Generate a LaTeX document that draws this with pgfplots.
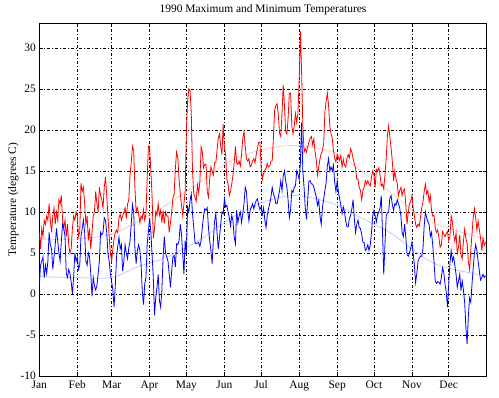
\documentclass[border=0pt]{standalone}
\usepackage{pgfplots}
\pgfplotsset{compat=1.18}
\usepackage{fontspec}
\setmainfont{Liberation Serif}
\definecolor{climred}{RGB}{255,200,200}
\definecolor{climblue}{RGB}{200,200,255}
\begin{document}
\begin{tikzpicture}
\path[use as bounding box] (-39.3bp,-22bp) rectangle (459.7bp,376bp);
\begin{axis}[
  scale only axis, width=447.4bp, height=352.7bp,
  at={(0,0)}, anchor=south west,
  xmin=0, xmax=365, ymin=-10, ymax=33,
  xtick={0,31,59,90,120,151,181,212,243,273,304,334},
  xticklabels={Jan,Feb,Mar,Apr,May,Jun,Jul,Aug,Sep,Oct,Nov,Dec},
  ytick={-10,-5,0,5,10,15,20,25,30},
  grid=major,
  major grid style={black, line width=0.6bp, dash pattern=on 3bp off 2bp on 1bp off 2bp},
  tick align=inside, xtick pos=both, ytick pos=both,
  major tick length=4bp,
  axis line style={black, line width=0.8bp},
  tick style={black, line width=0.8bp},
  title={1990 Maximum and Minimum Temperatures},
  ylabel={Temperature (degrees C)},
  font=\fontsize{11.5}{13}\selectfont,
  ticklabel style={font=\fontsize{11.5}{13}\selectfont},
  /pgf/number format/assume math mode=true,
  title style={at={(axis description cs:0.5,1)}, anchor=base, yshift=4.5bp},
  ylabel style={at={(axis description cs:-0.058,0.5)}, anchor=center},
  xticklabel style={yshift=-1bp},
  clip=true,
]
\addplot[climred, line width=0.8bp, smooth] coordinates {(0,6.7) (30,6.7) (59,7.3) (80,8.8) (104,10.9) (130,13.5) (157,16.3) (185,17.7) (210,18.1) (240,17.3) (261,15.2) (288,12.2) (313,9.3) (330,8.2) (364,6.7)};
\addplot[climblue, line width=0.8bp, smooth] coordinates {(0,2.1) (30,2.0) (59,2.0) (80,3.3) (104,4.5) (130,6.5) (157,9.3) (185,11.3) (210,12) (240,11) (261,9.4) (288,7.3) (313,4.5) (330,3.3) (364,2.2)};
\addplot[red, line width=0.8bp] table[x expr=\coordindex, y index=0, header=false, row sep=\\] {
7.5\\ 5.5\\ 8\\ 7\\ 9\\ 8.5\\ 9.5\\ 9\\ 11\\ 9\\
7.5\\ 9.5\\ 10.5\\ 8.5\\ 10\\ 9\\ 11.5\\ 11\\ 12\\ 9\\
8\\ 9\\ 7\\ 8.5\\ 6\\ 5\\ 5.5\\ 8\\ 9.5\\ 9\\
10\\ 9.5\\ 7\\ 7.5\\ 13.5\\ 12.5\\ 13\\ 11\\ 8.5\\ 9.5\\
6.5\\ 8\\ 5.5\\ 7.5\\ 9.5\\ 10\\ 12.5\\ 11\\ 10\\ 13\\
12\\ 11.5\\ 10.5\\ 13\\ 14.3\\ 12\\ 9.5\\ 7\\ 5\\ 4\\
5.5\\ 6.8\\ 7.5\\ 7.8\\ 7.5\\ 9.3\\ 9.7\\ 9\\ 9.5\\ 10\\
10.5\\ 9.2\\ 11\\ 11.4\\ 14.5\\ 16\\ 18\\ 17.5\\ 13\\ 10\\
10.5\\ 9.8\\ 8.7\\ 9.5\\ 9.2\\ 10.3\\ 9\\ 9.7\\ 14\\ 18\\
17.8\\ 15\\ 12\\ 6.8\\ 8\\ 10\\ 9.6\\ 11\\ 9.6\\ 10.2\\
8.7\\ 10.2\\ 8.6\\ 10\\ 9.5\\ 9.5\\ 7.5\\ 8.7\\ 10\\ 11.7\\
12.2\\ 15.3\\ 17.3\\ 16.6\\ 14\\ 12.3\\ 10.8\\ 9.6\\ 11\\ 12.5\\
20\\ 23.5\\ 25\\ 24.8\\ 22\\ 15\\ 12.2\\ 11.8\\ 11.3\\ 13.3\\
12.3\\ 13.7\\ 17.9\\ 17.3\\ 15.4\\ 15.8\\ 15.8\\ 12.5\\ 11.8\\ 14\\
15.5\\ 15\\ 14.5\\ 16\\ 16\\ 17.5\\ 19\\ 19.5\\ 18\\ 17\\
20.7\\ 18\\ 17\\ 14\\ 13.4\\ 12\\ 12.5\\ 13.4\\ 14.5\\ 16\\
18\\ 16\\ 15.8\\ 16.2\\ 15.6\\ 17\\ 19\\ 19.8\\ 18\\ 16.5\\
16.2\\ 16.5\\ 15.5\\ 15.7\\ 16.2\\ 16.5\\ 16\\ 17\\ 17.8\\ 18.5\\
18.5\\ 15.5\\ 14\\ 14.7\\ 15.1\\ 15.3\\ 15.9\\ 15.5\\ 15.6\\ 16.2\\
16.2\\ 19\\ 22.4\\ 23\\ 23.2\\ 21.8\\ 19.6\\ 19.2\\ 22\\ 25.5\\
23\\ 19.8\\ 19.5\\ 21.5\\ 24.5\\ 24.5\\ 20.5\\ 19.5\\ 20.5\\ 22\\
20.9\\ 22\\ 26\\ 32\\ 27\\ 20.5\\ 17.3\\ 17.7\\ 17.3\\ 18\\
18.5\\ 19\\ 19.2\\ 18.2\\ 18.9\\ 17.3\\ 16.3\\ 14.5\\ 15.5\\ 16.5\\
17.1\\ 17.5\\ 18.3\\ 22.2\\ 23.5\\ 24.5\\ 23\\ 20.5\\ 19.5\\ 19\\
17.5\\ 16.5\\ 16.1\\ 17\\ 16.7\\ 16.3\\ 16.9\\ 15.5\\ 16.4\\ 15.7\\
15.5\\ 16.5\\ 17\\ 16.6\\ 17.7\\ 17.3\\ 16.5\\ 15.9\\ 15.3\\ 14\\
14\\ 13\\ 12.6\\ 11.5\\ 12.6\\ 13\\ 13.8\\ 13.4\\ 13.8\\ 13.4\\
13.2\\ 14.2\\ 15\\ 14.5\\ 13\\ 15.2\\ 15\\ 15.4\\ 14.5\\ 13.2\\
13.4\\ 12.8\\ 14.5\\ 16.5\\ 19.3\\ 20.5\\ 19.2\\ 17.8\\ 16.2\\ 13.8\\
15\\ 14\\ 13.5\\ 12\\ 12.6\\ 13\\ 12\\ 12.6\\ 12.8\\ 10.9\\
8.5\\ 10\\ 11\\ 11.3\\ 12\\ 10.5\\ 9.5\\ 8.5\\ 8.1\\ 8.5\\
8.3\\ 9.3\\ 10.5\\ 11.2\\ 12.5\\ 13.4\\ 12.2\\ 12.6\\ 11.2\\ 12\\
10.2\\ 9.5\\ 9.6\\ 8.1\\ 7.5\\ 7.8\\ 6.9\\ 5.7\\ 6\\ 7.6\\
7.3\\ 7\\ 7.4\\ 7.6\\ 6.5\\ 7\\ 9.5\\ 8.8\\ 7.3\\ 6.4\\
7.4\\ 5\\ 5.7\\ 7.2\\ 4.8\\ 4.3\\ 6.4\\ 7.9\\ 6.8\\ 6.2\\
4\\ 3\\ 5.3\\ 7.3\\ 9.3\\ 10.4\\ 9.3\\ 7.8\\ 8.9\\ 7.8\\
6.8\\ 5.3\\ 6.8\\ 5.9\\ 6.3\\
};
\addplot[blue, line width=0.8bp] table[x expr=\coordindex, y index=0, header=false, row sep=\\] {
1\\ 3.5\\ 4\\ 4.5\\ 2\\ 3.5\\ 2.5\\ 4\\ 7.5\\ 6\\
5.5\\ 3\\ 4.5\\ 6\\ 8\\ 6.5\\ 5\\ 4\\ 6.5\\ 8.5\\
8\\ 7\\ 2.5\\ 2\\ 3\\ 2.5\\ 1.5\\ 0\\ 2\\ 5\\
4\\ 4.5\\ 3\\ 3.5\\ 7\\ 8\\ 9\\ 7.5\\ 4\\ 3.5\\
5\\ 4.5\\ 2.5\\ -0.3\\ 2\\ 1\\ 0.5\\ 1\\ 2.5\\ 4\\
7.5\\ 7.2\\ 7.5\\ 9.3\\ 9\\ 7.5\\ 5\\ 4\\ 2.5\\ 1.5\\
0.5\\ -1.6\\ 1\\ 4.5\\ 5.8\\ 6.9\\ 5.5\\ 6\\ 2.8\\ 4\\
6\\ 5\\ 4.3\\ 5.6\\ 6.4\\ 8.5\\ 10.9\\ 10\\ 5.6\\ 3.7\\
5.3\\ 6\\ 5.3\\ 3.7\\ 0.4\\ -1.3\\ 1.2\\ 2\\ 6\\ 7.6\\
9.2\\ 7.6\\ 4.8\\ 2\\ -2.6\\ -0.4\\ 0.8\\ 2.4\\ -0.8\\ -1.6\\
0.4\\ 4.5\\ 7\\ 5\\ 4.5\\ 4\\ 2.4\\ 0.8\\ 2.8\\ 4.5\\
4.7\\ 3.3\\ 6.1\\ 6\\ 6.5\\ 8.5\\ 7.3\\ 4.9\\ 2.4\\ 6.5\\
5\\ 10.6\\ 10\\ 11.4\\ 12.2\\ 9.8\\ 8.1\\ 6.3\\ 6.1\\ 6.2\\
6.3\\ 5.8\\ 6.5\\ 8.1\\ 9.5\\ 10.4\\ 10.2\\ 10.5\\ 8.1\\ 6.5\\
5.3\\ 3.7\\ 6.5\\ 8.9\\ 9.8\\ 7.5\\ 5.5\\ 6.9\\ 8.5\\ 10\\
9.8\\ 11.6\\ 10.6\\ 10.8\\ 10\\ 9.3\\ 8.3\\ 9.6\\ 8.9\\ 6.9\\
6.1\\ 10.2\\ 8.7\\ 9.5\\ 10\\ 8.7\\ 9.8\\ 11\\ 13\\ 12.5\\
10.2\\ 8.9\\ 10.2\\ 10.6\\ 11\\ 10.4\\ 11\\ 11.4\\ 11.6\\ 10.8\\
10.3\\ 10.6\\ 9.7\\ 10.5\\ 9\\ 8.1\\ 9.6\\ 10.4\\ 11\\ 11.8\\
13\\ 12.2\\ 11.8\\ 11\\ 11\\ 11.8\\ 12.6\\ 13.8\\ 12.6\\ 14.4\\
15\\ 13.8\\ 13\\ 11.4\\ 9.3\\ 10.2\\ 12.6\\ 12.4\\ 13\\ 13.2\\
15\\ 14.6\\ 14\\ 16\\ 20.9\\ 15\\ 13\\ 10.5\\ 9.1\\ 11.5\\
13.8\\ 13.8\\ 13.4\\ 13.4\\ 13\\ 12.4\\ 11.8\\ 10.8\\ 11.4\\ 9.5\\
8.5\\ 10.5\\ 11.6\\ 12.6\\ 13.6\\ 15.6\\ 16.5\\ 15\\ 15.5\\ 15\\
15.7\\ 13.6\\ 12.5\\ 13.8\\ 12.5\\ 11.6\\ 10.8\\ 9.8\\ 10.6\\ 10\\
8.9\\ 8.2\\ 8.2\\ 9.2\\ 9.6\\ 10.4\\ 11.5\\ 9.2\\ 7.5\\ 8.5\\
9\\ 8.1\\ 8\\ 7.3\\ 6.3\\ 6.3\\ 5.3\\ 5.5\\ 6\\ 5.3\\
6\\ 7.5\\ 9.5\\ 10.2\\ 9.5\\ 8.8\\ 9.7\\ 10\\ 10.5\\ 12\\
7.5\\ 2.4\\ 6\\ 9.5\\ 9.9\\ 10\\ 11.7\\ 12\\ 10.9\\ 10.2\\
11\\ 10.8\\ 11.5\\ 11\\ 10.5\\ 9.5\\ 7.5\\ 7\\ 8.5\\ 7\\
4.8\\ 4.6\\ 5\\ 5.6\\ 6.3\\ 5\\ 3.5\\ 1.4\\ 2.5\\ 4\\
4.4\\ 4.6\\ 4.6\\ 5.5\\ 8.3\\ 10\\ 9.3\\ 8.8\\ 8.5\\ 7\\
7.5\\ 5.9\\ 4\\ 1.6\\ 1.3\\ 1.5\\ 1.4\\ 1.2\\ 2\\ 3.2\\
2.6\\ 1.2\\ 0.2\\ -1.6\\ 1.2\\ 3.7\\ 5.3\\ 4\\ 4.5\\ 3.5\\
2.4\\ 0.8\\ 1.6\\ 2.4\\ 0.4\\ 1.6\\ 0.5\\ -1\\ -4\\ -6.1\\
-2.8\\ -0.5\\ -1\\ 1.2\\ 3.2\\ 5\\ 6\\ 5.3\\ 4\\ 2.8\\
1.7\\ 2\\ 2.4\\ 2\\ 2.2\\
};
\end{axis}
\end{tikzpicture}
\end{document}
